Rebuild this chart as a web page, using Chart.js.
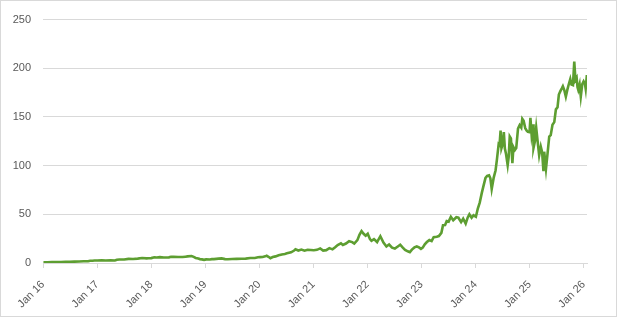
<!DOCTYPE html>
<html>
<head>
<meta charset="utf-8">
<script src="https://cdn.jsdelivr.net/npm/chart.js@4"></script>
<style>
  body { margin: 0; background: #fff; }
  #wrap { width: 617px; height: 317px; box-sizing: border-box; border: 1px solid #d9d9d9; }
  canvas { display: block; }
</style>
</head>
<body>
<div id="wrap"><canvas id="priceChart" width="615" height="315"></canvas></div>
<script>
// Price history
const dates = [
  "2016-01-04","2016-02-01","2016-03-01","2016-04-01","2016-05-02","2016-06-01","2016-07-01","2016-08-01","2016-09-01","2016-10-03","2016-11-01","2016-11-15","2016-12-01","2016-12-15",
  "2017-01-03","2017-02-01","2017-03-01","2017-04-03","2017-05-01","2017-05-15","2017-06-01","2017-07-03","2017-08-01","2017-09-01","2017-10-02","2017-11-01","2017-12-01","2017-12-15",
  "2018-01-02","2018-01-22","2018-02-08","2018-03-01","2018-03-28","2018-04-16","2018-05-01","2018-05-15","2018-06-01","2018-07-02","2018-08-01","2018-08-20","2018-09-04","2018-10-01","2018-10-15","2018-10-29","2018-11-15","2018-11-26","2018-12-10","2018-12-24",
  "2019-01-07","2019-02-01","2019-02-15","2019-03-01","2019-04-01","2019-04-22","2019-05-15","2019-06-03","2019-07-01","2019-08-01","2019-09-03","2019-10-01","2019-11-01","2019-12-02","2019-12-23",
  "2020-01-06","2020-01-24","2020-02-10","2020-02-20","2020-03-03","2020-03-16","2020-04-01","2020-04-20","2020-05-11","2020-06-01","2020-06-22","2020-07-06","2020-08-03","2020-08-24","2020-09-02","2020-09-21","2020-10-12","2020-11-02","2020-11-23","2020-12-14",
  "2021-01-04","2021-01-25","2021-02-16","2021-03-08","2021-03-29","2021-04-19","2021-05-10","2021-05-28","2021-06-14","2021-07-06","2021-07-19","2021-08-09","2021-08-30","2021-09-20","2021-10-04","2021-10-25","2021-11-08","2021-11-22","2021-12-06","2021-12-20",
  "2022-01-03","2022-01-18","2022-01-28","2022-02-14","2022-03-07","2022-03-29","2022-04-19","2022-05-09","2022-05-27","2022-06-16","2022-07-05","2022-07-25","2022-08-10","2022-08-26","2022-09-12","2022-09-30","2022-10-14","2022-10-28","2022-11-14","2022-11-30","2022-12-15","2022-12-28",
  "2023-01-09","2023-01-23","2023-02-06","2023-02-23","2023-03-10","2023-03-24","2023-04-14","2023-04-28","2023-05-15","2023-05-26","2023-06-09","2023-06-20","2023-07-03","2023-07-18","2023-08-03","2023-08-24","2023-09-07","2023-09-25","2023-10-09","2023-10-26","2023-11-09","2023-11-20","2023-12-05","2023-12-18",
  "2024-01-03","2024-01-16","2024-01-29","2024-02-12","2024-02-23","2024-03-08","2024-03-19","2024-04-01","2024-04-10","2024-04-19","2024-05-03","2024-05-15","2024-05-24","2024-06-05","2024-06-11","2024-06-18","2024-06-24","2024-07-02","2024-07-10","2024-07-17","2024-07-25","2024-08-05","2024-08-12","2024-08-19","2024-08-27","2024-09-06","2024-09-13","2024-09-23","2024-10-02","2024-10-14","2024-10-25","2024-11-05","2024-11-12","2024-11-21","2024-12-02","2024-12-12","2024-12-20","2024-12-31",
  "2025-01-06","2025-01-14","2025-01-24","2025-01-27","2025-02-05","2025-02-14","2025-02-27","2025-03-06","2025-03-17","2025-03-26","2025-04-04","2025-04-09","2025-04-21","2025-05-01","2025-05-13","2025-05-23","2025-06-04","2025-06-16","2025-06-27","2025-07-08","2025-07-17","2025-07-28","2025-08-06","2025-08-13","2025-08-22","2025-09-02","2025-09-12","2025-09-22","2025-10-02","2025-10-10","2025-10-20","2025-10-29","2025-11-06","2025-11-14","2025-11-20","2025-11-25","2025-12-04","2025-12-12","2025-12-22","2025-12-31",
  "2026-01-09","2026-01-14","2026-01-22"
];
const prices = [
  0.80,0.72,0.85,0.90,0.92,1.15,1.20,1.45,1.55,1.72,1.80,2.30,2.30,2.55,
  2.55,2.75,2.50,2.70,2.60,3.40,3.60,3.55,4.20,4.10,4.50,5.10,4.80,4.85,
  5.00,5.80,5.70,6.00,5.70,5.60,5.80,6.40,6.30,6.10,6.10,6.50,6.80,7.20,6.30,5.20,4.50,4.00,3.70,3.20,
  3.70,3.60,4.00,4.00,4.50,4.70,4.00,3.80,4.10,4.20,4.40,4.50,5.20,5.20,5.90,
  6.00,6.10,6.80,7.40,6.40,5.00,6.20,6.80,8.00,8.80,9.30,10.0,11.0,12.8,14.0,12.8,13.8,12.6,13.5,13.3,
  13.1,13.5,15.0,12.8,13.2,15.3,14.0,16.2,18.5,20.2,18.5,20.0,22.4,21.5,20.0,23.5,29.0,32.8,30.0,28.0,
  30.0,24.5,22.8,24.5,21.5,27.5,21.0,17.0,19.0,15.8,14.8,17.0,18.8,16.0,13.5,12.0,11.2,13.8,16.0,17.0,16.0,14.5,
  15.8,19.2,21.5,23.5,22.5,26.5,27.0,27.7,31.0,38.9,39.0,43.0,42.5,47.5,44.0,47.0,46.5,42.0,45.5,40.5,46.8,50.0,46.5,49.0,
  47.5,56.0,62.0,72.0,79.0,87.5,89.5,90.0,87.0,76.0,88.0,95.0,106.0,122.0,121.0,136.0,118.0,122.0,134.5,117.5,112.0,100.5,109.0,130.0,128.0,102.5,119.0,116.0,118.0,138.0,141.5,139.0,148.0,146.0,138.5,136.0,134.7,134.3,
  149.0,131.8,142.6,118.4,124.8,138.8,120.2,110.5,119.5,113.8,94.3,114.3,96.9,111.6,129.9,131.3,141.9,144.7,157.8,160.0,173.0,176.8,179.4,181.6,177.9,170.8,177.8,183.6,188.9,183.2,182.6,207.0,188.0,190.2,180.6,177.8,183.4,171.0,183.7,186.5,
  184.0,179.0,193.0
];
const tickYears = [2016,2017,2018,2019,2020,2021,2022,2023,2024,2025,2026];
const tickLabels = ["Jan 16","Jan 17","Jan 18","Jan 19","Jan 20","Jan 21","Jan 22","Jan 23","Jan 24","Jan 25","Jan 26"];
const yTicks = [0,50,100,150,200,250];

// date string -> decimal year
function toYear(s) {
  const d = new Date(s + "T00:00:00Z");
  const y = d.getUTCFullYear();
  const start = Date.UTC(y, 0, 1);
  const end = Date.UTC(y + 1, 0, 1);
  return y + (d.getTime() - start) / (end - start);
}

const points = dates.map((d, i) => ({ x: toYear(d), y: prices[i] }));
const font = { family: "'Liberation Sans', Arial, sans-serif", size: 11 };

new Chart(document.getElementById("priceChart").getContext("2d"), {
  type: "line",
  data: {
    datasets: [{
      data: points,
      borderColor: "#5d9e31",
      borderWidth: 2.6,
      pointRadius: 0,
      tension: 0,
      fill: false
    }]
  },
  options: {
    responsive: false,
    animation: false,
    devicePixelRatio: 1,
    layout: { padding: { top: 16, right: 29, left: 0, bottom: 0 } },
    plugins: { legend: { display: false }, tooltip: { enabled: false } },
    scales: {
      x: {
        type: "linear",
        min: 2016,
        max: 2026.06,
        afterBuildTicks: scale => { scale.ticks = tickYears.map(v => ({ value: v })); },
        afterFit: scale => { scale.height = 53; },
        border: { display: true, color: "#d9d9d9", width: 1 },
        grid: { drawOnChartArea: false, drawTicks: true, tickLength: 5, color: "#d9d9d9" },
        ticks: {
          minRotation: 45,
          maxRotation: 45,
          padding: 10,
          color: "#595959",
          font,
          callback: v => tickLabels[tickYears.indexOf(v)]
        }
      },
      y: {
        min: 0,
        max: 250,
        afterBuildTicks: scale => { scale.ticks = yTicks.map(v => ({ value: v })); },
        afterFit: scale => { scale.width = 42; },
        border: { display: false },
        grid: { color: "#d9d9d9", drawTicks: false },
        ticks: { padding: 12, color: "#595959", font }
      }
    }
  }
});
</script>
</body>
</html>
